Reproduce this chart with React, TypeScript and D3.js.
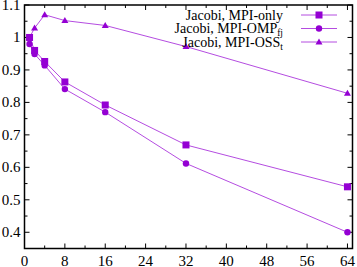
import React from 'react'
import * as d3 from 'd3'

// node counts on x, normalised efficiency on y
const mpiOnlyX = [1, 2, 4, 8, 16, 32, 64]
const mpiOnlyY = [1.0, 0.96, 0.926, 0.863, 0.792, 0.669, 0.54]
const ompX = [1, 2, 4, 8, 16, 32, 64]
const ompY = [0.98, 0.949, 0.914, 0.841, 0.77, 0.612, 0.4]
const ossX = [1, 2, 4, 8, 16, 32, 64]
const ossY = [1.0, 1.029, 1.07, 1.052, 1.037, 0.972, 0.828]

const xTicks = [0, 8, 16, 24, 32, 40, 48, 56, 64]
const xMinor = [4, 12, 20, 28, 36, 44, 52, 60]
const yTicks = [0.4, 0.5, 0.6, 0.7, 0.8, 0.9, 1, 1.1]
const yMinor = [0.45, 0.55, 0.65, 0.75, 0.85, 0.95, 1.05]

const color = '#9400d3'
const font = '"Liberation Serif", serif'

const W = 357, H = 267
const margin = { top: 5, right: 4.5, bottom: 18.5, left: 24.5 }

export default function App() {
  const x = d3.scaleLinear().domain([0, 65]).range([margin.left, W - margin.right])
  const y = d3.scaleLinear().domain([0.35, 1.1]).range([H - margin.bottom, margin.top])
  const x0 = margin.left, x1 = W - margin.right
  const y0 = H - margin.bottom, y1 = margin.top

  const line = d3.line<[number, number]>().x(d => x(d[0])).y(d => y(d[1]))
  const series = [
    { name: 'MPI-only', sub: '', xs: mpiOnlyX, ys: mpiOnlyY, shape: 'square' },
    { name: 'MPI-OMP', sub: 'fj', xs: ompX, ys: ompY, shape: 'circle' },
    { name: 'MPI-OSS', sub: 't', xs: ossX, ys: ossY, shape: 'triangle' },
  ]

  const marker = (shape: string, cx: number, cy: number, key: any) => {
    if (shape === 'square') return <rect key={key} x={cx - 3.5} y={cy - 3.5} width={7} height={7} fill={color} />
    if (shape === 'circle') return <circle key={key} cx={cx} cy={cy} r={3.2} fill={color} />
    return <path key={key} d={`M${cx},${cy - 3.5}L${cx + 3.5},${cy + 2.5}L${cx - 3.5},${cy + 2.5}Z`} fill={color} />
  }

  return (
    <svg width={W} height={H} style={{ position: 'absolute', left: 0, top: 0 }} fontFamily={font}>
      <rect width={W} height={H} fill="#fff" />
      {/* ticks on all four sides */}
      {xTicks.map(t => (
        <g key={'xt' + t}>
          <line x1={x(t)} x2={x(t)} y1={y0} y2={y0 - 5} stroke="#000" />
          <line x1={x(t)} x2={x(t)} y1={y1} y2={y1 + 5} stroke="#000" />
          <text x={x(t)} y={H - 1.5} textAnchor="middle" fontSize={15}>{t}</text>
        </g>
      ))}
      {xMinor.map(t => (
        <g key={'xm' + t}>
          <line x1={x(t)} x2={x(t)} y1={y0} y2={y0 - 3} stroke="#000" />
          <line x1={x(t)} x2={x(t)} y1={y1} y2={y1 + 3} stroke="#000" />
        </g>
      ))}
      {yTicks.map(t => (
        <g key={'yt' + t}>
          <line x1={x0} x2={x0 + 5} y1={y(t)} y2={y(t)} stroke="#000" />
          <line x1={x1} x2={x1 - 5} y1={y(t)} y2={y(t)} stroke="#000" />
          <text x={20.5} y={y(t) + 5} textAnchor="end" fontSize={15}>{t === 1 ? '1' : d3.format('.1f')(t)}</text>
        </g>
      ))}
      {yMinor.map(t => (
        <g key={'ym' + t}>
          <line x1={x0} x2={x0 + 3} y1={y(t)} y2={y(t)} stroke="#000" />
          <line x1={x1} x2={x1 - 3} y1={y(t)} y2={y(t)} stroke="#000" />
        </g>
      ))}
      <rect x={x0} y={y1} width={x1 - x0} height={y0 - y1} fill="none" stroke="#000" strokeWidth={1.5} />

      {series.map((s, i) => (
        <g key={s.name}>
          <path d={line(s.xs.map((v, j) => [v, s.ys[j]]) as [number, number][]) || ''} fill="none" stroke={color} strokeWidth={1} strokeOpacity={0.7} />
          {s.xs.map((v, j) => marker(s.shape, x(v), y(s.ys[j]), j))}
        </g>
      ))}

      {/* legend */}
      {series.map((s, i) => {
        const ly = 15 + i * 13.5
        return (
          <g key={'lg' + s.name}>
            <text x={283} y={ly + 4.5} textAnchor="end" fontSize={14}>
              {'Jacobi, ' + s.name}
              {s.sub && <tspan fontSize={9.5} dy={3}>{s.sub}</tspan>}
            </text>
            <line x1={301} x2={337} y1={ly} y2={ly} stroke={color} strokeOpacity={0.7} />
            {marker(s.shape, 319, ly, 'm')}
          </g>
        )
      })}
    </svg>
  )
}
